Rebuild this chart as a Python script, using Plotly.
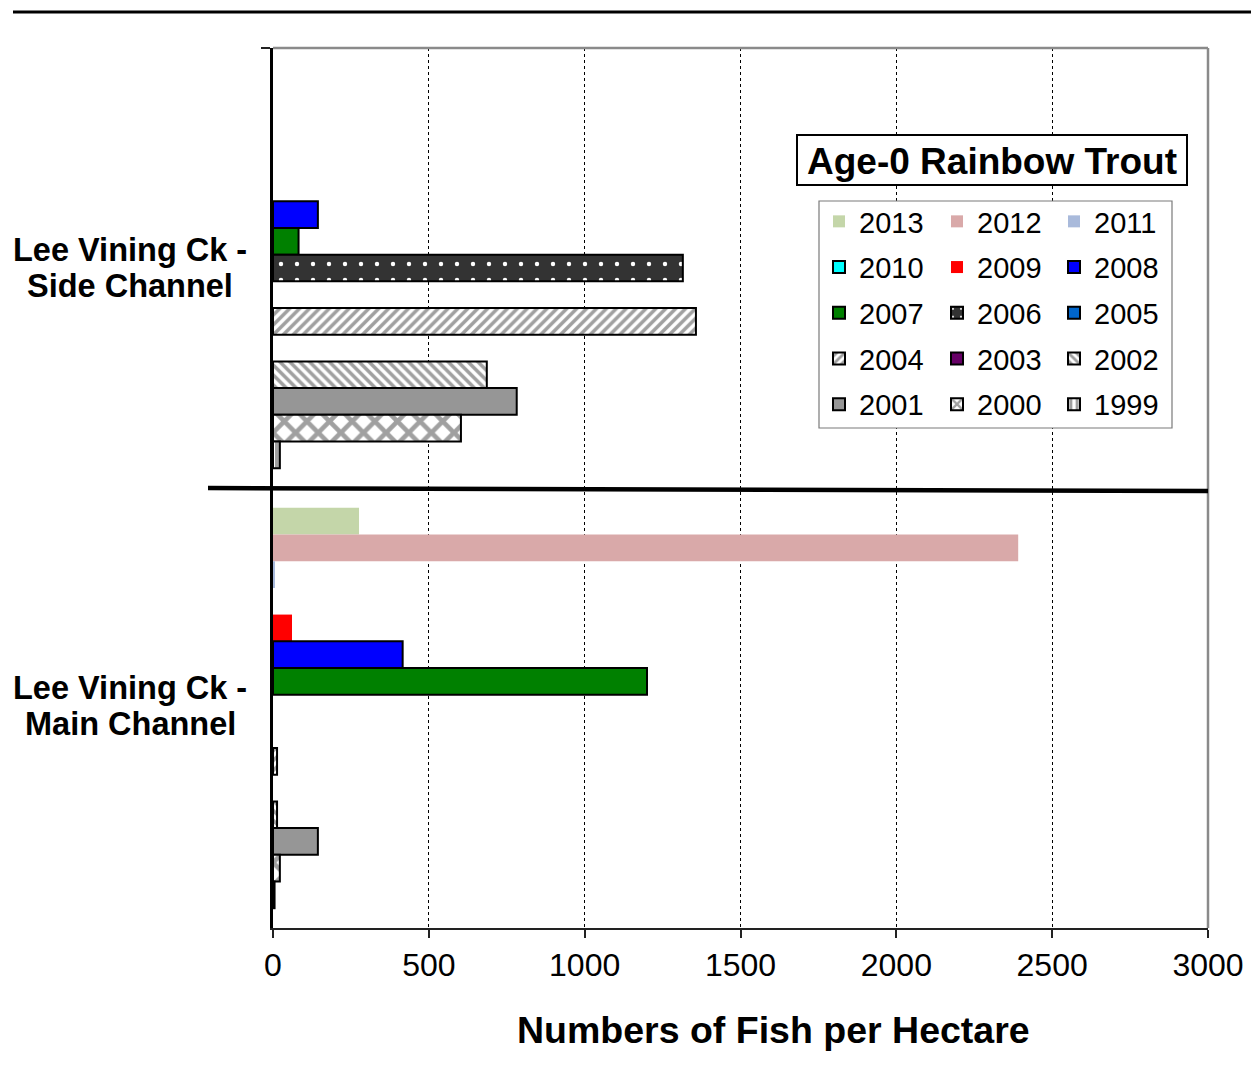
import plotly.graph_objects as go

# ---- data ----
categories = ["Lee Vining Ck - Side Channel", "Lee Vining Ck - Main Channel"]
years = [2013, 2012, 2011, 2010, 2009, 2008, 2007, 2006, 2005, 2004, 2003, 2002, 2001, 2000, 1999]
side_channel = [0, 0, 0, 0, 0, 144, 82, 1315, 0, 1357, 0, 686, 782, 603, 22]
main_channel = [276, 2391, 5, 0, 61, 416, 1200, 0, 0, 13, 0, 13, 144, 22, 5]
x_ticks = [0, 500, 1000, 1500, 2000, 2500, 3000]

# ---- styles ----
def pat(shape, fg, bg, size, solidity):
    return dict(shape=shape, fgcolor=fg, bgcolor=bg, size=size, solidity=solidity, fillmode="replace")

styles = {
    2013: dict(color="#c4d6a9", line=0),
    2012: dict(color="#d9a9a9", line=0),
    2011: dict(color="#a9badb", line=0),
    2010: dict(color="#00ffff", line=2),
    2009: dict(color="#ff0000", line=0),
    2008: dict(color="#0000ff", line=2),
    2007: dict(color="#008000", line=2),
    2006: dict(color="#333333", line=2, pattern=pat(".", "white", "#333333", 16, 0.06)),
    2005: dict(color="#0066cc", line=2),
    2004: dict(color="#a0a0a0", line=2, pattern=pat("/", "#a0a0a0", "white", 7, 0.5)),
    2003: dict(color="#660066", line=2),
    2002: dict(color="#a0a0a0", line=2, pattern=pat("\\", "#a0a0a0", "white", 7, 0.5)),
    2001: dict(color="#969696", line=2),
    2000: dict(color="#a0a0a0", line=2, pattern=pat("x", "#a0a0a0", "white", 16, 0.5)),
    1999: dict(color="#a0a0a0", line=2, pattern=pat("|", "#a0a0a0", "white", 8, 0.5)),
}

# page body has an 8px margin: figure coords = screen coords - 8
OFF = 8
W, H = 1243, 1058
L, R, T, B = 273 - OFF, 1208 - OFF, 48 - OFF, 928 - OFF


def xp(px):
    return (px - OFF - L) / (R - L)


def yp(py):
    return (B - (py - OFF)) / (B - T)


FONT = "Liberation Sans, Arial, sans-serif"

fig = go.Figure()
legend_names = ["legend", "legend2", "legend3"]
for i, yr in enumerate(years):
    st = styles[yr]
    vals = [side_channel[i], main_channel[i]]
    # empty (zero) cells are left undrawn, as in the source chart
    shown = [v if v > 0 else None for v in vals]
    marker = dict(color=st["color"], line=dict(color="black", width=st["line"]))
    if "pattern" in st:
        marker["pattern"] = st["pattern"]
    fig.add_trace(go.Bar(
        y=categories,
        x=shown,
        orientation="h",
        name=str(yr),
        marker=marker,
        legend=legend_names[(2013 - yr) % 3],
        legendgroup=str(yr),
        hoverinfo="x+name",
    ))

legend_common = dict(
    font=dict(family=FONT, size=29, color="black"),
    bgcolor="rgba(0,0,0,0)",
    borderwidth=0,
    traceorder="grouped",
    tracegroupgap=5,
    xanchor="left",
    yanchor="top",
    itemwidth=30,
    itemclick=False,
    itemdoubleclick=False,
)

fig.update_layout(
    width=W, height=H,
    margin=dict(l=L, r=W - R, t=T, b=H - B, autoexpand=False),
    paper_bgcolor="white",
    plot_bgcolor="white",
    barmode="group",
    bargap=0.09,
    bargroupgap=0,
    showlegend=True,
    legend=dict(legend_common, x=xp(819), y=yp(196)),
    legend2=dict(legend_common, x=xp(937), y=yp(196)),
    legend3=dict(legend_common, x=xp(1054), y=yp(196)),
    xaxis=dict(
        range=[0, 3000],
        tickvals=x_ticks,
        ticktext=[str(v) for v in x_ticks],
        ticks="outside", ticklen=8, tickwidth=1.5, tickcolor="#222",
        showline=True, linecolor="#222", linewidth=2,
        showgrid=True, gridcolor="black", gridwidth=1, griddash="dot",
        zeroline=False, automargin=False,
        tickfont=dict(family=FONT, size=32, color="black"),
    ),
    yaxis=dict(
        type="category",
        categoryorder="array", categoryarray=categories,
        autorange="reversed",
        tickson="boundaries", ticks="outside", ticklen=9, tickwidth=1.5, tickcolor="#222",
        showline=True, linecolor="black", linewidth=2.5,
        showgrid=False, zeroline=False, automargin=False,
        showticklabels=False,
    ),
)

shapes = [
    # page header rule
    dict(type="line", xref="paper", yref="paper", x0=xp(13), x1=xp(1259), y0=yp(12), y1=yp(12),
         line=dict(color="black", width=3)),
    # plot area top & right border
    dict(type="line", xref="paper", yref="paper", x0=0, x1=1, y0=1, y1=1,
         line=dict(color="#8a8a8a", width=2.5)),
    dict(type="line", xref="paper", yref="paper", x0=1, x1=1, y0=0, y1=1,
         line=dict(color="#8a8a8a", width=2.5)),
    # separator between the two channels
    dict(type="line", xref="paper", yref="paper", x0=xp(208), x1=xp(1208), y0=yp(488), y1=yp(491),
         line=dict(color="black", width=4.5)),
    # legend box
    dict(type="rect", xref="paper", yref="paper", x0=xp(819), x1=xp(1172), y0=yp(201), y1=yp(428),
         line=dict(color="#7a7a7a", width=1.2), fillcolor="white", layer="above"),
    # legend title box
    dict(type="rect", xref="paper", yref="paper", x0=xp(797), x1=xp(1187), y0=yp(135), y1=yp(185),
         line=dict(color="black", width=2), fillcolor="white", layer="above"),
]
fig.update_layout(shapes=shapes)

ann = [
    dict(text="<b>Age-0 Rainbow Trout</b>", x=xp(992), y=yp(161), font=dict(size=37)),
    dict(text="<b>Numbers of Fish per Hectare</b>", x=xp(773), y=yp(1030), font=dict(size=37.5)),
    dict(text="<b>Lee Vining Ck -</b>", x=xp(130), y=yp(250), font=dict(size=32.5)),
    dict(text="<b>Side Channel</b>", x=xp(130), y=yp(286), font=dict(size=32.5)),
    dict(text="<b>Lee Vining Ck -</b>", x=xp(130), y=yp(688), font=dict(size=32.5)),
    dict(text="<b>Main Channel</b>", x=xp(130), y=yp(724), font=dict(size=32.5)),
]
for a in ann:
    a.update(xref="paper", yref="paper", showarrow=False, xanchor="center", yanchor="middle")
    a["font"] = dict(family=FONT, color="black", size=a["font"]["size"])
fig.update_layout(annotations=ann)

fig.write_html("out.html")
